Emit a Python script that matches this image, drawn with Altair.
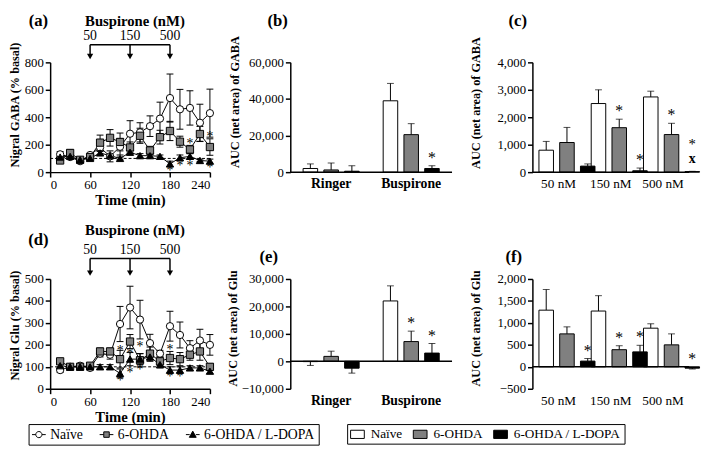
import altair as alt
import pandas as pd

FONT = "Liberation Serif"

groups = ["Naïve", "6-OHDA", "6-OHDA / L-DOPA"]
fills = ["white", "#808080", "black"]
strokes = ["black", "black", "black"]
shapes = ["circle", "square", "triangle-up"]
legend_shapes = [
    "M-1,0H-0.45M0.45,0H1M0.45,0A0.45,0.45,0,1,1,-0.45,0A0.45,0.45,0,1,1,0.45,0Z",
    "M-1,0H-0.4M0.4,0H1M-0.4,-0.4H0.4V0.4H-0.4Z",
    "M-1,0H-0.45M0.45,0H1M0,-0.5L0.5,0.4H-0.5Z",
]
bar_legend_shape = "M-1,-0.6H1V0.6H-1Z"

# ---------- time-course data ----------
times = [15, 30, 45, 60, 75, 90, 105, 120, 135, 150, 165, 180, 195, 210, 225, 240]

gaba_naive = [130, 110, 80, 125, 180, 115, 185, 280, 290, 335, 390, 540, 458, 468, 360, 430]
gaba_naive_sem = [20, 15, 10, 10, 30, 40, 60, 95, 70, 75, 120, 175, 145, 125, 135, 175]
gaba_ohda = [85, 140, 90, 110, 215, 250, 220, 180, 265, 158, 255, 300, 222, 165, 278, 183]
gaba_ohda_sem = [10, 25, 10, 10, 55, 60, 65, 40, 55, 30, 50, 70, 40, 30, 55, 60]
gaba_ldopa = [110, 115, 90, 100, 140, 120, 100, 145, 120, 120, 115, 60, 105, 115, 85, 80]
gaba_ldopa_sem = [10, 10, 5, 5, 15, 10, 10, 10, 15, 15, 10, 20, 20, 20, 10, 15]
gaba_star_t = [180, 195, 210, 210, 240, 240]
gaba_star_v = [28, 64, 228, 64, 278, 48]

glu_naive = [85, 100, 105, 95, 160, 155, 295, 370, 315, 208, 160, 285, 245, 185, 220, 200]
glu_naive_sem = [10, 10, 10, 10, 15, 20, 80, 97, 88, 40, 15, 68, 59, 34, 51, 47]
glu_ohda = [125, 100, 100, 105, 170, 170, 135, 215, 130, 160, 125, 140, 135, 155, 170, 100]
glu_ohda_sem = [10, 10, 5, 10, 15, 15, 40, 32, 30, 30, 20, 30, 30, 25, 40, 15]
glu_ldopa = [105, 100, 100, 100, 100, 100, 70, 135, 135, 145, 110, 85, 85, 95, 95, 80]
glu_ldopa_sem = [10, 10, 5, 5, 10, 10, 20, 30, 25, 20, 15, 15, 15, 10, 10, 10]
glu_star_t = [105, 105, 120, 120, 135, 135, 180, 180, 195]
glu_star_v = [183, 50, 170, 85, 205, 100, 189, 67, 67]

basal = [100]
dose_labels = ["50", "150", "500"]
dose_times = [60, 120, 180]

# ---------- AUC data ----------
ringer_cats = ["Ringer", "Buspirone"]
dose_cats = ["50 nM", "150 nM", "500 nM"]

gaba_auc = [[2000, 39000], [1200, 20500], [500, 2000]]
gaba_auc_sem = [[2500, 9500], [3800, 6000], [3000, 1500]]
gaba_auc_sig = [[0, 0], [0, 0], [0, 1]]

gaba_dose = [[800, 2500, 2740], [1080, 1620, 1370], [220, 50, 20]]
gaba_dose_sem = [[320, 500, 210], [550, 310, 410], [80, 100, 10]]
gaba_dose_sig = [[0, 0, 0], [0, 1, 1], [0, 1, 1]]
gaba_dose_x = [[0, 0, 0], [0, 0, 0], [0, 0, 1]]

glu_auc = [[-100, 22000], [1800, 7200], [-2500, 3000]]
glu_auc_sem = [[1400, 5500], [1900, 3800], [1800, 3500]]
glu_auc_sig = [[0, 0], [0, 1], [0, 1]]

glu_dose = [[1290, 1270, 880], [750, 390, 500], [130, 340, -30]]
glu_dose_sem = [[470, 350, 100], [160, 90, 250], [60, 150, 20]]
glu_dose_sig = [[0, 0, 0], [0, 1, 0], [1, 1, 1]]

dose_title = "Buspirone (nM)"

W1, W2, W3, H = 163, 165, 160, 112
COL_GAP, ROW_GAP = 82, 109


def line_df(vals, sems):
    rows = []
    for g, vv, ss in zip(groups, vals, sems):
        for t, v, s in zip(times, vv, ss):
            rows.append({"time": t, "group": g, "value": v, "lo": v - s, "hi": v + s})
    return pd.DataFrame(rows)


def text_layer(txt, x, y, size, weight="bold"):
    return alt.Chart(pd.DataFrame({"t": [txt]})).mark_text(
        font=FONT, fontSize=size, fontWeight=weight, color="black").encode(
        x=alt.value(x), y=alt.value(y), text="t:N")


def line_panel(df, st_t, st_v, ymax, ystep, ytitle, label, geo, legend_pos=None):
    br_y, dl_y, tt_y, pl_y, ty, tx = geo
    X = lambda f: alt.X(f, scale=alt.Scale(domain=[0, 240], nice=False),
                        axis=alt.Axis(values=[0, 60, 120, 180, 240], titleFontSize=15,
                                      titlePadding=1),
                        title="Time (min)")
    Y = lambda f: alt.Y(f, scale=alt.Scale(domain=[0, ymax], nice=False),
                        axis=alt.Axis(values=list(range(0, ymax + 1, ystep)),
                                      titleX=tx, titleY=ty),
                        title=ytitle)
    base = alt.Chart(df)
    dashed = alt.Chart(pd.DataFrame({"value": basal})).mark_rule(
        strokeDash=[3, 2], color="black", strokeWidth=1).encode(y=Y("value:Q"))
    err = base.mark_rule(color="black", strokeWidth=1).encode(
        x=X("time:Q"), y=Y("lo:Q"), y2="hi:Q", detail="group:N")
    cap_hi = base.mark_rule(color="black", strokeWidth=1, xOffset=-3.5, x2Offset=3.5).encode(
        x=X("time:Q"), x2="time:Q", y=Y("hi:Q"))
    cap_lo = base.mark_rule(color="black", strokeWidth=1, xOffset=-3.5, x2Offset=3.5).encode(
        x=X("time:Q"), x2="time:Q", y=Y("lo:Q"))
    line = base.mark_line(color="black", strokeWidth=1).encode(
        x=X("time:Q"), y=Y("value:Q"), detail="group:N")
    pts = base.mark_point(filled=True, stroke="black", strokeWidth=1, size=55, opacity=1).encode(
        x=X("time:Q"), y=Y("value:Q"),
        fill=alt.Fill("group:N", scale=alt.Scale(domain=groups, range=fills), legend=None),
        shape=alt.Shape("group:N", scale=alt.Scale(domain=groups, range=shapes), legend=None))
    stars = alt.Chart(pd.DataFrame({"time": st_t, "value": st_v, "s": ["*"] * len(st_t)})).mark_text(
        font=FONT, fontSize=14, baseline="alphabetic", dy=7, color="black").encode(
        x=X("time:Q"), y=Y("value:Q"), text="s:N")
    ann = pd.DataFrame({"time": dose_times, "dose": dose_labels})
    v_rules = alt.Chart(ann).mark_rule(color="black", strokeWidth=1.5).encode(
        x=X("time:Q"), y=alt.value(br_y), y2=alt.value(-8))
    bracket = alt.Chart(pd.DataFrame({"time": [dose_times[0]], "end": [dose_times[-1]]})).mark_rule(
        color="black", strokeWidth=1.5).encode(x=X("time:Q"), x2="end:Q", y=alt.value(br_y))
    heads = alt.Chart(ann).mark_point(shape="triangle-down", filled=True, color="black",
                                      size=40, opacity=1).encode(x=X("time:Q"), y=alt.value(-6))
    dl = alt.Chart(ann).mark_text(font=FONT, fontSize=14, color="black").encode(
        x=X("time:Q"), y=alt.value(dl_y), text="dose:N")
    ttl = text_layer(dose_title, W1 / 2 + 5, tt_y, 15)
    lab = text_layer(label, -12, pl_y, 17)
    layers = [dashed, err, cap_hi, cap_lo, line, pts, stars, v_rules, bracket, heads, dl, ttl, lab]
    if legend_pos:
        leg = alt.Legend(
            title=None, orient="none", legendX=legend_pos[0], legendY=legend_pos[1],
            direction="horizontal", strokeColor="black", padding=3,
            labelFont=FONT, labelFontSize=14, labelColor="black", columnPadding=14,
            labelOffset=4, symbolStrokeWidth=1, symbolSize=196, symbolOpacity=1,
            symbolStrokeColor="black")
        legsrc = alt.Chart(pd.DataFrame({"group": groups})).mark_point(
            filled=True, opacity=0, size=196).encode(
            x=alt.value(0), y=alt.value(0),
            fill=alt.Fill("group:N", scale=alt.Scale(domain=groups, range=fills), legend=leg),
            stroke=alt.Stroke("group:N", scale=alt.Scale(domain=groups, range=strokes), legend=leg),
            shape=alt.Shape("group:N", scale=alt.Scale(domain=groups, range=legend_shapes),
                            legend=leg))
        layers.append(legsrc)
        return alt.layer(*layers).resolve_scale(
            fill="independent", shape="independent", stroke="independent").properties(
            width=W1, height=H)
    return alt.layer(*layers).properties(width=W1, height=H)


def bar_df(cats, vals, sems, sigs, xs=None):
    rows = []
    for gi, g in enumerate(groups):
        for ci, c in enumerate(cats):
            v, s = vals[gi][ci], sems[gi][ci]
            end = v + s if v >= 0 else v - s
            hasx = bool(xs[gi][ci]) if xs else False
            sig = bool(sigs[gi][ci])
            rows.append({"cat": c, "group": g, "value": v, "end": end,
                         "pos": max(end, 0),
                         "star": "*" if (sig and not hasx) else "",
                         "star2": "*" if (sig and hasx) else "",
                         "xm": "x" if hasx else ""})
    return pd.DataFrame(rows)


def bar_panel(df, cats, dom, step, ytitle, label, width, pin, pout, bold, lab_xy, tx, ty,
              legend_pos=None):
    Xs = alt.X("cat:N", sort=cats, scale=alt.Scale(paddingInner=pin, paddingOuter=pout),
               axis=alt.Axis(title=None, domain=False, ticks=False, labelAngle=0,
                             labelFontSize=14 if bold else 13.5,
                             labelFontWeight="bold" if bold else "normal", labelPadding=5))
    XO = alt.XOffset("group:N", sort=groups, scale=alt.Scale(paddingInner=0.3))
    Y = lambda f: alt.Y(f, scale=alt.Scale(domain=dom, nice=False),
                        axis=alt.Axis(values=list(range(dom[0], dom[1] + 1, step)), format=",d",
                                      titleX=tx, titleY=ty),
                        title=ytitle)
    base = alt.Chart(df)
    err = base.mark_rule(color="black", strokeWidth=1).encode(
        x=Xs, xOffset=XO, y=Y("value:Q"), y2="end:Q")
    cap = base.mark_tick(color="black", thickness=1, size=7, xOffset=2).encode(
        x=Xs, xOffset=XO, y=Y("end:Q"))
    leg = None
    if legend_pos:
        leg = alt.Legend(title=None, orient="none", legendX=legend_pos[0], legendY=legend_pos[1],
                         direction="horizontal", strokeColor="black", padding=3,
                         labelFont=FONT, labelFontSize=13.5, labelColor="black",
                         columnPadding=8, labelOffset=6, symbolType=bar_legend_shape,
                         symbolSize=196, symbolStrokeColor="black", symbolStrokeWidth=1)
    bars = base.mark_bar(stroke="black", strokeWidth=1).encode(
        x=Xs, xOffset=XO, y=Y("value:Q"),
        fill=alt.Fill("group:N", scale=alt.Scale(domain=groups, range=fills), legend=leg))
    zero = alt.Chart(pd.DataFrame({"value": [0]})).mark_rule(color="black", strokeWidth=1.5).encode(
        y=Y("value:Q"))
    stars = base.mark_text(font=FONT, fontSize=16, baseline="alphabetic", dy=-3, color="black").encode(
        x=Xs, xOffset=XO, y=Y("pos:Q"), text="star:N")
    stars2 = base.mark_text(font=FONT, fontSize=15, baseline="alphabetic", dy=-23, color="black").encode(
        x=Xs, xOffset=XO, y=Y("pos:Q"), text="star2:N")
    xm = base.mark_text(font=FONT, fontSize=14, fontWeight="bold", baseline="alphabetic", dy=-9,
                        color="black").encode(x=Xs, xOffset=XO, y=Y("pos:Q"), text="xm:N")
    lab = text_layer(label, lab_xy[0], lab_xy[1], 17)
    return alt.layer(err, bars, cap, zero, stars, stars2, xm, lab).properties(width=width, height=H)


pa = line_panel(line_df([gaba_naive, gaba_ohda, gaba_ldopa],
                        [gaba_naive_sem, gaba_ohda_sem, gaba_ldopa_sem]),
                gaba_star_t, gaba_star_v, 800, 200, "Nigral GABA (% basal)", "(a)",
                (-18, -27, -42, -42, 43, -29))
pd_ = line_panel(line_df([glu_naive, glu_ohda, glu_ldopa],
                         [glu_naive_sem, glu_ohda_sem, glu_ldopa_sem]),
                 glu_star_t, glu_star_v, 500, 100, "Nigral Glu (% basal)", "(d)",
                 (-21, -30, -50, -40, 47, -29), legend_pos=(-22, 148))

pb = bar_panel(bar_df(ringer_cats, gaba_auc, gaba_auc_sem, gaba_auc_sig), ringer_cats,
               [0, 60000], 20000, "AUC (net area) of GABA", "(b)", W2, 0.3, 0.16, True,
               (-13, -42), -50, 40)
pc = bar_panel(bar_df(dose_cats, gaba_dose, gaba_dose_sem, gaba_dose_sig, gaba_dose_x), dose_cats,
               [0, 4000], 1000, "AUC (net area) of GABA", "(c)", W3, 0.25, 0.125, False,
               (-15, -42), -51, 41)
pe = bar_panel(bar_df(ringer_cats, glu_auc, glu_auc_sem, glu_auc_sig), ringer_cats,
               [-10000, 30000], 10000, "AUC (net area)  of Glu", "(e)", W2, 0.3, 0.16, True,
               (-22, -22), -52, 50, legend_pos=(58, 148))
pf = bar_panel(bar_df(dose_cats, glu_dose, glu_dose_sem, glu_dose_sig), dose_cats,
               [-500, 2000], 500, "AUC (net area)  of Glu", "(f)", W3, 0.25, 0.125, False,
               (-19, -22), -51, 50)

RES = dict(fill="independent", shape="independent", stroke="independent")

chart = alt.concat(pa, pb, pc, pd_, pe, pf, columns=3, bounds="flush",
                   spacing={"row": ROW_GAP, "column": COL_GAP}).resolve_scale(
    **RES).resolve_legend(**RES).properties(
    padding=0
).configure_view(stroke=None).configure_axis(
    grid=False, domainColor="black", domainWidth=1.5, tickColor="black", tickWidth=1.5,
    tickSize=5, labelColor="black", titleColor="black", labelFont=FONT, titleFont=FONT,
    labelFontSize=13, titleFontSize=12.5, titleFontWeight="bold"
).configure_legend(labelFont=FONT)

chart.save("out.html", embed_options={"renderer": "svg", "actions": False})
